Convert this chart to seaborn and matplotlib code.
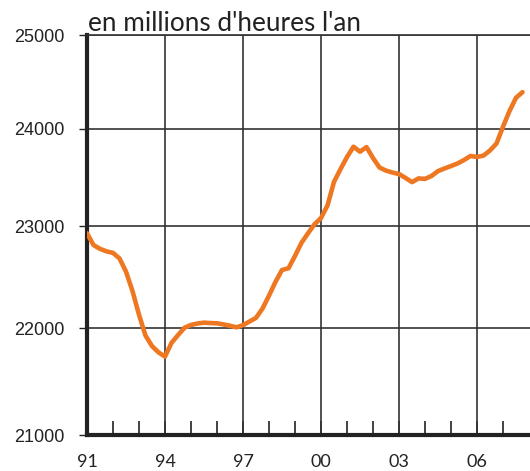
import numpy as np
import pandas as pd
import matplotlib
matplotlib.use("Agg")
import matplotlib.pyplot as plt
import matplotlib.ticker as mticker
import seaborn as sns

# Quarterly series, 1991Q1 .. 2007Q4 (millions of hours per year)
years = list(range(1991, 2008))
values = [
    22930, 22813, 22775, 22750,   # 1991
    22735, 22680, 22550, 22360,   # 1992
    22130, 21930, 21830, 21770,   # 1993
    21730, 21860, 21935, 22005,   # 1994
    22032, 22046, 22054, 22050,   # 1995
    22048, 22037, 22024, 22009,   # 1996
    22030, 22065, 22100, 22190,   # 1997
    22315, 22450, 22566, 22583,   # 1998
    22705, 22835, 22930, 23020,   # 1999
    23083, 23210, 23450, 23580,   # 2000
    23705, 23812, 23760, 23808,   # 2001
    23695, 23597, 23565, 23545,   # 2002
    23530, 23490, 23447, 23485,   # 2003
    23480, 23510, 23560, 23587,   # 2004
    23612, 23638, 23674, 23716,   # 2005
    23705, 23720, 23773, 23845,   # 2006
    24020, 24185, 24325, 24385,   # 2007
]
x_tick_years = [91, 94, 97, 100, 103, 106]
x_tick_labels = ["91", "94", "97", "00", "03", "06"]
y_ticks = [21000, 22000, 23000, 24000, 25000]
title_text = "en millions d'heures l'an"

t = [91 + i / 4 for i in range(len(values))]
df = pd.DataFrame({"t": t, "v": values})

sns.set_theme(style="white")
plt.rcParams["font.family"] = ["Liberation Sans", "DejaVu Sans"]

fig = plt.figure(figsize=(5.30, 4.71), dpi=100)
ax = fig.add_axes([87 / 530, 36 / 471, (530 - 87) / 530, 400 / 471])

ax.set_yscale("log")
ax.set_ylim(21000, 25000)
ax.set_xlim(91, 91 + (530 - 87) / 26)

sns.lineplot(data=df, x="t", y="v", ax=ax, color="#EE7722", linewidth=3.3,
             solid_capstyle="round", solid_joinstyle="round", zorder=5)

# grid
for xv in x_tick_years[1:]:
    ax.axvline(xv, color="#333333", linewidth=1.2, zorder=1)
for yv in y_ticks[1:]:
    ax.axhline(yv, color="#333333", linewidth=1.2, zorder=1)

ax.yaxis.set_major_locator(mticker.FixedLocator(y_ticks))
ax.yaxis.set_minor_locator(mticker.NullLocator())
ax.yaxis.set_major_formatter(mticker.FixedFormatter([str(v) for v in y_ticks]))
ax.tick_params(axis="y", which="major", direction="out", length=6, width=1.0,
               color="#222222", labelsize=13, labelcolor="#222222", pad=10, left=True)

ax.xaxis.set_major_locator(mticker.FixedLocator(x_tick_years))
ax.xaxis.set_major_formatter(mticker.FixedFormatter(x_tick_labels))
ax.xaxis.set_minor_locator(mticker.FixedLocator(list(range(92, 108))))
ax.tick_params(axis="x", which="both", direction="in", length=10, width=1.2,
               color="#222222", bottom=True)
ax.tick_params(axis="x", which="major", labelsize=13, labelcolor="#222222", pad=14)
for lab in ax.get_xticklabels():
    lab.set_fontfamily(["Lato", "DejaVu Sans"])

ax.set_xlabel("")
ax.set_ylabel("")
ax.grid(False)

ax.spines["right"].set_visible(False)
ax.spines["top"].set_linewidth(1.2)
ax.spines["top"].set_color("#333333")
ax.spines["left"].set_linewidth(3.0)
ax.spines["left"].set_color("#222222")
ax.spines["bottom"].set_linewidth(3.0)
ax.spines["bottom"].set_color("#222222")

fig.text(88 / 530, 1 - 31 / 471, title_text, fontsize=18.8, color="#222222",
         family=["Lato", "DejaVu Sans"], ha="left", va="baseline")

fig.savefig("out.png", dpi=100, facecolor="white")
